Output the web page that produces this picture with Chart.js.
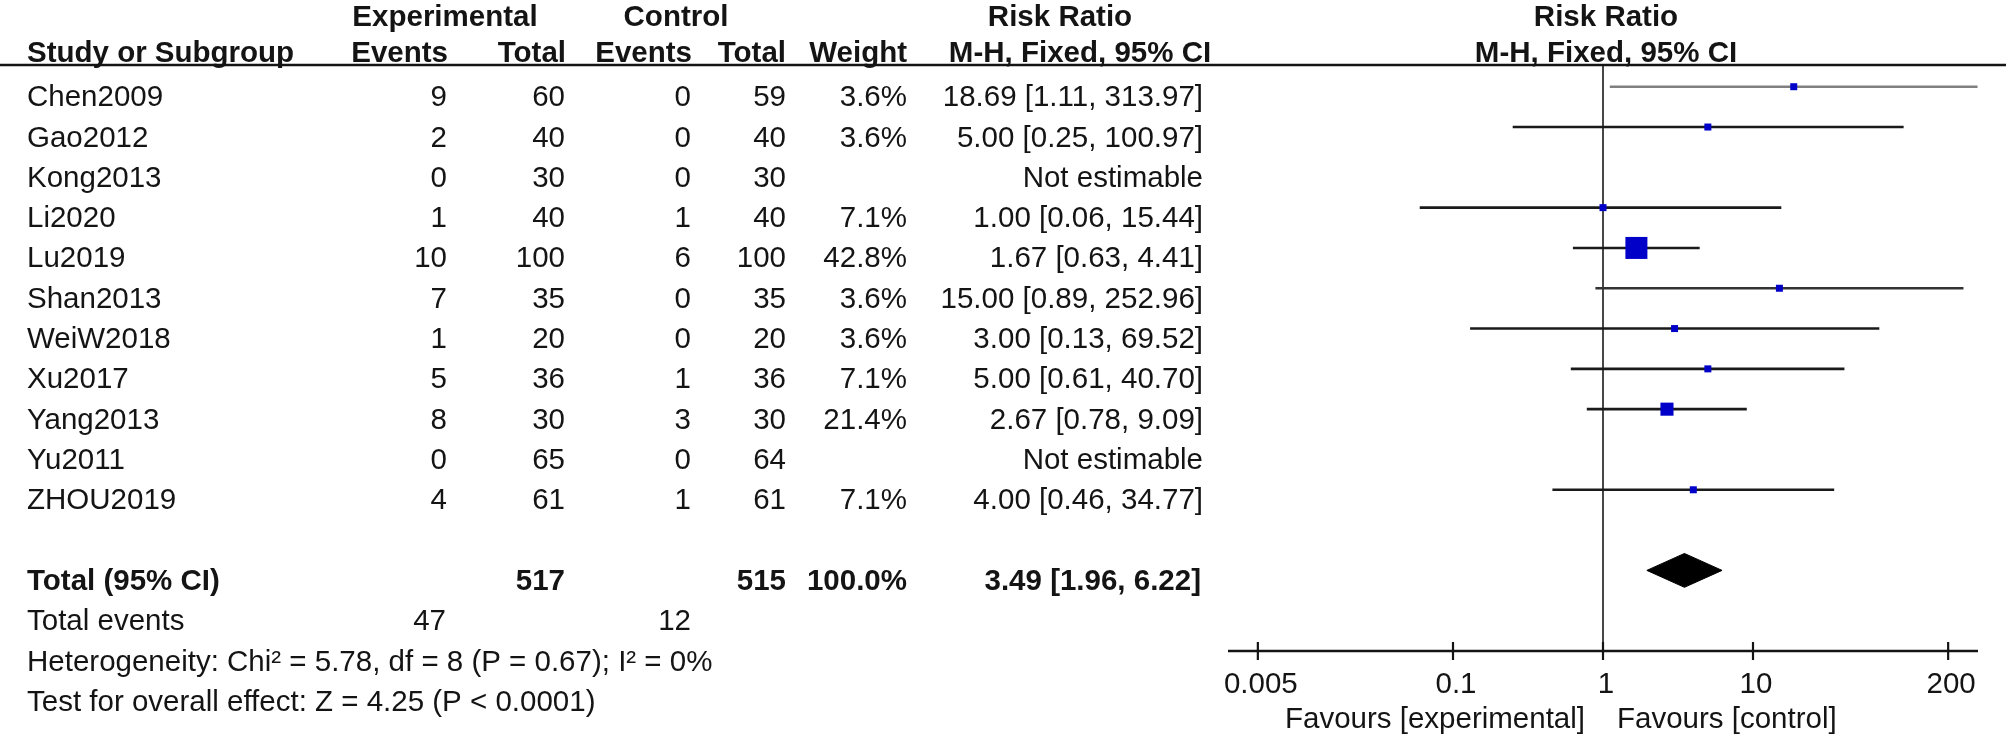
<!DOCTYPE html>
<html>
<head>
<meta charset="utf-8">
<script src="https://cdn.jsdelivr.net/npm/chart.js@4.4.1/dist/chart.umd.min.js"></script>
<style>
html,body{margin:0;padding:0;background:#ffffff;}
#wrap{position:relative;width:2008px;height:737px;background:#ffffff;}
</style>
</head>
<body>
<div id="wrap"><canvas id="c"></canvas></div>
<script>
// ---------------- data ----------------
const studies    = ['Chen2009','Gao2012','Kong2013','Li2020','Lu2019','Shan2013','WeiW2018','Xu2017','Yang2013','Yu2011','ZHOU2019'];
const expEvents  = [9, 2, 0, 1, 10, 7, 1, 5, 8, 0, 4];
const expTotal   = [60, 40, 30, 40, 100, 35, 20, 36, 30, 65, 61];
const ctlEvents  = [0, 0, 0, 1, 6, 0, 0, 1, 3, 0, 1];
const ctlTotal   = [59, 40, 30, 40, 100, 35, 20, 36, 30, 64, 61];
const weights    = [3.6, 3.6, null, 7.1, 42.8, 3.6, 3.6, 7.1, 21.4, null, 7.1];
const riskRatio  = [18.69, 5.00, null, 1.00, 1.67, 15.00, 3.00, 5.00, 2.67, null, 4.00];
const ciLower    = [1.11, 0.25, null, 0.06, 0.63, 0.89, 0.13, 0.61, 0.78, null, 0.46];
const ciUpper    = [313.97, 100.97, null, 15.44, 4.41, 252.96, 69.52, 40.70, 9.09, null, 34.77];

const totalExpN = 517, totalCtlN = 515, totalWeight = 100.0;
const totalRR = 3.49, totalLower = 1.96, totalUpper = 6.22;
const totalEventsExp = 47, totalEventsCtl = 12;
const tickValues = [0.005, 0.1, 1, 10, 200];
const tickLabels = ['0.005', '0.1', '1', '10', '200'];
const heterogeneityText = 'Heterogeneity: Chi\u00B2 = 5.78, df = 8 (P = 0.67); I\u00B2 = 0%';
const overallText = 'Test for overall effect: Z = 4.25 (P < 0.0001)';
const favoursLeft = 'Favours [experimental]';
const favoursRight = 'Favours [control]';

// ---------------- styling ----------------
const FONT = "'Liberation Sans', Arial, Helvetica, sans-serif";
const FS = 29.5;
const INK = '#141414';
const BLUE = '#0000c8';
const sideFor = w => Math.max(7, 22 * Math.pow(w / 42.8, 0.75));
const fmt2 = v => v.toFixed(2);

const totalRow = studies.length + 1;     // row index of the Total line

// ---------------- datasets ----------------
const datasets = [];
const idx = studies.map((s, i) => i).filter(i => riskRatio[i] !== null);

datasets.push({
  label: 'estimates',
  data: idx.map(i => ({x: riskRatio[i], y: i})),
  pointStyle: 'rect',
  pointRadius: idx.map(i => sideFor(weights[i]) / Math.SQRT2),
  pointHoverRadius: idx.map(i => sideFor(weights[i]) / Math.SQRT2),
  backgroundColor: BLUE,
  borderColor: BLUE,
  borderWidth: 0,
  showLine: false
});

datasets.push({
  label: 'total',
  data: [
    {x: totalLower, y: totalRow},
    {x: totalRR, y: totalRow - 0.42},
    {x: totalUpper, y: totalRow},
    {x: totalRR, y: totalRow + 0.42},
    {x: totalLower, y: totalRow}
  ],
  showLine: true,
  fill: 'shape',
  backgroundColor: '#000000',
  borderColor: '#000000',
  borderWidth: 1,
  pointRadius: 0,
  tension: 0
});

idx.forEach(i => {
  datasets.push({
    label: 'ci ' + studies[i],
    data: [{x: ciLower[i], y: i}, {x: ciUpper[i], y: i}],
    showLine: true,
    borderColor: i === 0 ? '#808080' : (i === 5 ? '#333333' : '#1a1a1a'),
    borderWidth: 2.6,
    pointRadius: 0,
    fill: false
  });
});

const Y_MIN = -0.514, Y_MAX = 14;
datasets.push({
  label: 'no effect',
  data: [{x: 1, y: Y_MIN}, {x: 1, y: Y_MAX}],
  showLine: true,
  borderColor: '#1a1a1a',
  borderWidth: 1.6,
  pointRadius: 0,
  fill: false
});

// ---------------- text / axis plugin ----------------
const forestPlugin = {
  id: 'forest',
  afterDraw(chart) {
    const ctx = chart.ctx;
    const xs = chart.scales.x, ys = chart.scales.y;
    const area = chart.chartArea;
    const base = i => ys.getPixelForValue(i) + 19.5;
    const txt = (s, x, y, align, bold) => {
      ctx.font = (bold ? 'bold ' : '') + FS + 'px ' + FONT;
      ctx.textAlign = align || 'left';
      ctx.textBaseline = 'alphabetic';
      ctx.fillStyle = INK;
      ctx.fillText(s, x, y);
    };
    ctx.save();

    // header rule
    ctx.strokeStyle = INK;
    ctx.lineWidth = 2.6;
    ctx.beginPath();
    ctx.moveTo(0, area.top - 1);
    ctx.lineTo(2006, area.top - 1);
    ctx.stroke();

    const plotCenter = xs.getPixelForValue(1) + 3;
    // headers
    const h1 = 26, h2 = 61.5;
    txt('Experimental', 445, h1, 'center', true);
    txt('Control', 676, h1, 'center', true);
    txt('Risk Ratio', 1060, h1, 'center', true);
    txt('Risk Ratio', plotCenter, h1, 'center', true);
    txt('Study or Subgroup', 27, h2, 'left', true);
    txt('Events', 448, h2, 'right', true);
    txt('Total', 566, h2, 'right', true);
    txt('Events', 692, h2, 'right', true);
    txt('Total', 786, h2, 'right', true);
    txt('Weight', 907, h2, 'right', true);
    txt('M-H, Fixed, 95% CI', 1080, h2, 'center', true);
    txt('M-H, Fixed, 95% CI', plotCenter, h2, 'center', true);

    // study rows
    studies.forEach((s, i) => {
      const y = base(i);
      txt(s, 27, y, 'left');
      txt(String(expEvents[i]), 447, y, 'right');
      txt(String(expTotal[i]), 565, y, 'right');
      txt(String(ctlEvents[i]), 691, y, 'right');
      txt(String(ctlTotal[i]), 786, y, 'right');
      if (weights[i] !== null) txt(weights[i].toFixed(1) + '%', 907, y, 'right');
      const rrText = riskRatio[i] === null ? 'Not estimable'
        : fmt2(riskRatio[i]) + ' [' + fmt2(ciLower[i]) + ', ' + fmt2(ciUpper[i]) + ']';
      txt(rrText, 1203, y, 'right');
    });

    // total rows
    let y = base(totalRow);
    txt('Total (95% CI)', 27, y, 'left', true);
    txt(String(totalExpN), 565, y, 'right', true);
    txt(String(totalCtlN), 786, y, 'right', true);
    txt(totalWeight.toFixed(1) + '%', 907, y, 'right', true);
    txt(fmt2(totalRR) + ' [' + fmt2(totalLower) + ', ' + fmt2(totalUpper) + ']', 1201, y, 'right', true);
    y = base(totalRow + 1);
    txt('Total events', 27, y, 'left');
    txt(String(totalEventsExp), 446, y, 'right');
    txt(String(totalEventsCtl), 691, y, 'right');
    txt(heterogeneityText, 27, base(totalRow + 2), 'left');
    txt(overallText, 27, base(totalRow + 3), 'left');

    // x axis
    const ay = area.bottom;
    ctx.strokeStyle = INK;
    ctx.lineWidth = 2.6;
    ctx.beginPath();
    ctx.moveTo(area.left, ay);
    ctx.lineTo(area.right, ay);
    ctx.stroke();
    ctx.lineWidth = 2.2;
    tickValues.forEach((v, k) => {
      const px = xs.getPixelForValue(v);
      ctx.beginPath();
      ctx.moveTo(px, ay - 9);
      ctx.lineTo(px, ay + 9);
      ctx.stroke();
      txt(tickLabels[k], px + 3, ay + 41.5, 'center');
    });
    const p1 = xs.getPixelForValue(1);
    txt(favoursLeft, p1 - 18, ay + 77, 'right');
    txt(favoursRight, p1 + 14, ay + 77, 'left');

    ctx.restore();
  }
};

new Chart(document.getElementById('c'), {
  type: 'scatter',
  data: {datasets},
  options: {
    responsive: true,
    maintainAspectRatio: false,
    animation: false,
    events: [],
    layout: {padding: {left: 1228, right: 30, top: 66, bottom: 86}},
    scales: {
      x: {type: 'logarithmic', min: Math.pow(10, -2.5), max: Math.pow(10, 2.5), display: false},
      y: {type: 'linear', min: Y_MIN, max: Y_MAX, reverse: true, display: false}
    },
    plugins: {legend: {display: false}, tooltip: {enabled: false}}
  },
  plugins: [forestPlugin]
});
</script>
</body>
</html>
